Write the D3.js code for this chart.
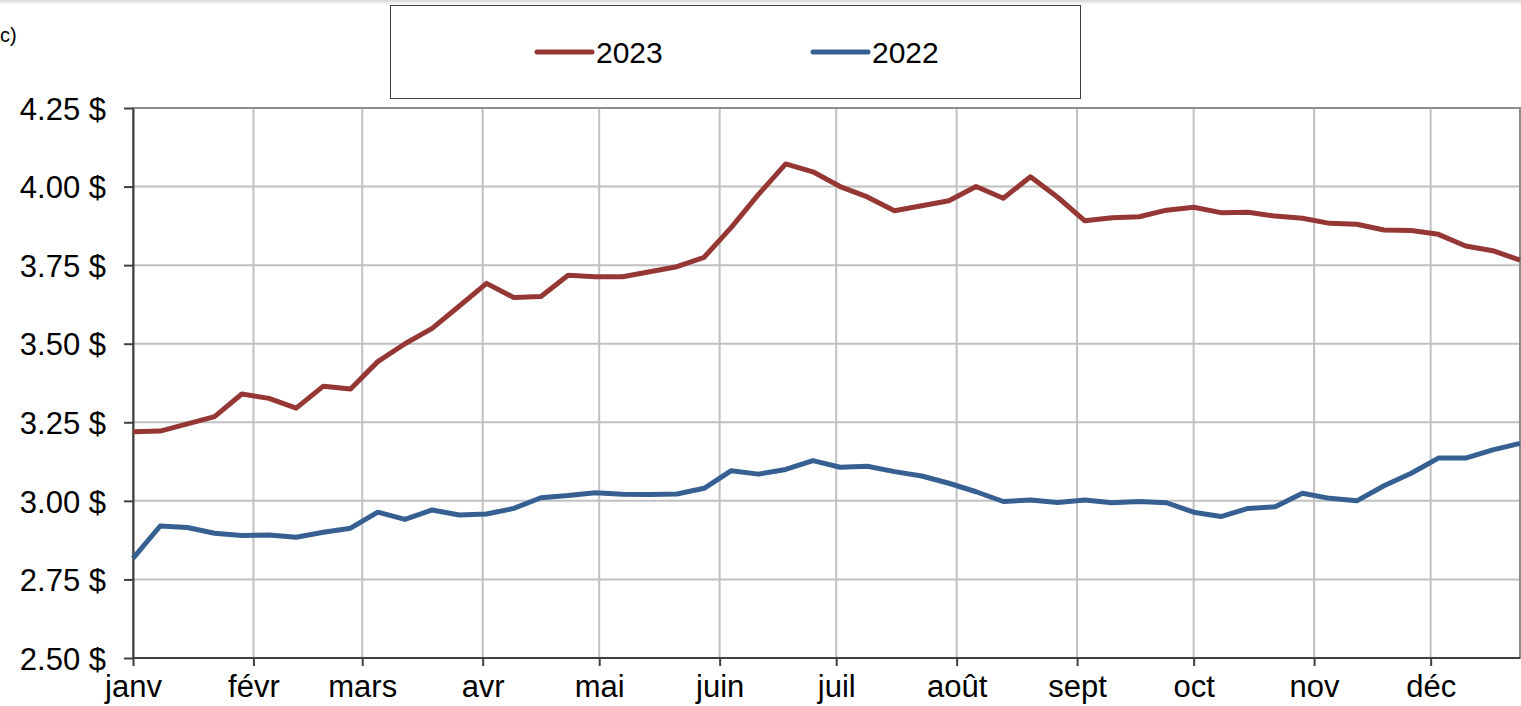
<!DOCTYPE html>
<html lang="fr">
    <head>
        <meta charset="UTF-8" />
        <title>Prix hebdomadaire 2023 vs 2022</title>
        <style>
            html,
            body {
                margin: 0;
                padding: 0;
                background: #fff;
            }
            svg {
                display: block;
                font-family: Arial, "Liberation Sans", Helvetica, sans-serif;
            }
            .grid line {
                stroke: #c0c0c0;
                stroke-width: 2px;
            }
            .axis path,
            .axis line {
                stroke: #404040;
                stroke-width: 2px;
            }
            .axis text {
                fill: #000;
                font-size: 31px;
            }
            .series {
                fill: none;
                stroke-width: 5px;
                stroke-linejoin: round;
            }
        </style>
    </head>
    <body>
        <div id="chart"></div>
        <script src="https://cdn.jsdelivr.net/npm/d3@7"></script>
        <script>
            // weekly values, first week starting January 1st
            const values2023 = [
                3.22, 3.222, 3.245, 3.268, 3.34, 3.326, 3.295, 3.365, 3.356, 3.443,
                3.5, 3.549, 3.62, 3.692, 3.647, 3.65, 3.718, 3.713, 3.713, 3.729,
                3.745, 3.775, 3.87, 3.975, 4.072, 4.047, 4.0, 3.967, 3.923, 3.939,
                3.955, 4.0, 3.963, 4.031, 3.966, 3.891, 3.901, 3.904, 3.925, 3.934,
                3.917, 3.918, 3.906, 3.899, 3.883, 3.88, 3.862, 3.86, 3.848, 3.811,
                3.796, 3.766
            ];
            const values2022 = [
                2.817, 2.92, 2.915, 2.897, 2.89, 2.891, 2.884, 2.9, 2.913, 2.964,
                2.941, 2.971, 2.955, 2.958, 2.976, 3.01, 3.017, 3.026, 3.021, 3.02,
                3.022, 3.04, 3.096, 3.085, 3.1, 3.128, 3.107, 3.11, 3.093, 3.079,
                3.056, 3.029, 2.998, 3.003, 2.995, 3.003, 2.994, 2.998, 2.994, 2.964,
                2.95, 2.976, 2.981, 3.024, 3.008, 3.0, 3.048, 3.088, 3.136, 3.136,
                3.162, 3.183
            ];
            const monthLabels = ["janv", "févr", "mars", "avr", "mai", "juin", "juil", "août", "sept", "oct", "nov", "déc"];
            const yTicks = [2.5, 2.75, 3.0, 3.25, 3.5, 3.75, 4.0, 4.25];
            const seriesNames = ["2023", "2022"];
            const colors = ["#953735", "#376092"];

            const width = 1521;
            const height = 706;
            const plot = { left: 133, right: 1520, top: 108, bottom: 658 };

            const start = new Date(Date.UTC(2023, 0, 1));
            const weekDate = i => d3.utcDay.offset(start, i * 7);

            const x = d3
                .scaleUtc()
                .domain([start, weekDate(values2023.length - 1)])
                .range([plot.left, plot.right]);
            const y = d3.scaleLinear().domain([2.5, 4.25]).range([plot.bottom, plot.top]);

            const svg = d3
                .select("#chart")
                .append("svg")
                .attr("width", width)
                .attr("height", height)
                .attr("viewBox", `0 0 ${width} ${height}`);

            // faint shadow along the top edge
            const grad = svg
                .append("defs")
                .append("linearGradient")
                .attr("id", "topShade")
                .attr("x1", 0)
                .attr("y1", 0)
                .attr("x2", 0)
                .attr("y2", 1);
            grad.append("stop").attr("offset", "0%").attr("stop-color", "#d8d8d8");
            grad.append("stop").attr("offset", "100%").attr("stop-color", "#fff");
            svg.append("rect").attr("x", 0).attr("y", 0).attr("width", width).attr("height", 5).attr("fill", "url(#topShade)");

            // leftover of a caption at the top left
            svg.append("text")
                .attr("x", 0)
                .attr("y", 42)
                .attr("font-size", 20)
                .text("c)");

            const months = d3.utcMonth.range(start, d3.utcDay.offset(weekDate(values2023.length - 1), 1));

            // grid
            const grid = svg.append("g").attr("class", "grid");
            grid.selectAll(".h")
                .data(yTicks)
                .join("line")
                .attr("x1", plot.left)
                .attr("x2", plot.right)
                .attr("y1", d => y(d))
                .attr("y2", d => y(d));
            grid.selectAll(".v")
                .data(months.slice(1))
                .join("line")
                .attr("x1", d => x(d))
                .attr("x2", d => x(d))
                .attr("y1", plot.top)
                .attr("y2", plot.bottom);

            // plot frame
            svg.append("rect")
                .attr("x", plot.left)
                .attr("y", plot.top)
                .attr("width", plot.right - plot.left)
                .attr("height", plot.bottom - plot.top)
                .attr("fill", "none")
                .attr("stroke", "#8c8c8c")
                .attr("stroke-width", 2);

            // axes
            const yAxis = svg
                .append("g")
                .attr("class", "axis")
                .attr("transform", `translate(${plot.left},0)`)
                .call(
                    d3
                        .axisLeft(y)
                        .tickValues(yTicks)
                        .tickSize(9)
                        .tickSizeOuter(0)
                        .tickPadding(18)
                        .tickFormat(d => d3.format(".2f")(d) + " $")
                );
            yAxis.selectAll("text").attr("dy", "0.36em");

            const xAxis = svg
                .append("g")
                .attr("class", "axis")
                .attr("transform", `translate(0,${plot.bottom})`)
                .call(
                    d3
                        .axisBottom(x)
                        .tickValues(months)
                        .tickSize(8)
                        .tickSizeOuter(0)
                        .tickPadding(9)
                        .tickFormat((d, i) => monthLabels[i])
                );
            xAxis.select(".domain").attr("d", `M${plot.left},0H${plot.right}`);

            // lines
            const line = d3
                .line()
                .x((d, i) => x(weekDate(i)))
                .y(d => y(d));

            svg.selectAll(".series")
                .data([values2023, values2022])
                .join("path")
                .attr("class", "series")
                .attr("stroke", (d, i) => colors[i])
                .attr("d", line);

            // legend
            const legend = svg.append("g");
            legend
                .append("rect")
                .attr("x", 390.5)
                .attr("y", 5.5)
                .attr("width", 690)
                .attr("height", 93)
                .attr("fill", "#fff")
                .attr("stroke", "#404040")
                .attr("stroke-width", 1);
            const legendX = [537, 813];
            seriesNames.forEach((name, i) => {
                legend
                    .append("line")
                    .attr("x1", legendX[i])
                    .attr("x2", legendX[i] + 55)
                    .attr("y1", 52)
                    .attr("y2", 52)
                    .attr("stroke", colors[i])
                    .attr("stroke-width", 5)
                    .attr("stroke-linecap", "round");
                legend
                    .append("text")
                    .attr("x", legendX[i] + 59)
                    .attr("y", 63)
                    .attr("font-size", 30)
                    .text(name);
            });
        </script>
    </body>
</html>
